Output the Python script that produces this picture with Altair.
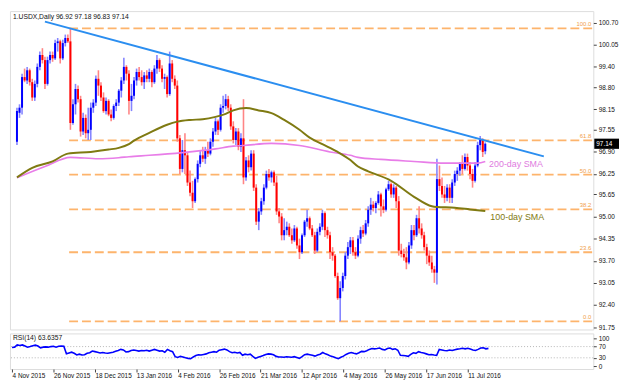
import altair as alt
import pandas as pd

TITLE = "1.USDX,Daily  96.92 97.18 96.83 97.14"
RSI_TITLE = "RSI(14) 63.6357"
LAST_LABEL = "97.14"

OPEN = [
    97.20, 98.05, 98.20, 99.10, 99.00, 99.30, 98.95, 98.50, 98.90, 99.40,
    99.75, 99.60, 98.90, 99.60, 99.75, 99.65, 100.10, 100.15, 99.65, 100.10,
    100.25, 100.15, 97.75, 98.30, 98.75, 98.45, 97.50, 97.90, 97.45, 97.55,
    98.20, 98.35, 99.05, 98.85, 98.50, 98.10, 98.40, 98.00, 97.90, 98.25,
    98.35, 98.70, 99.00, 99.40, 99.20, 98.40, 98.55, 99.00, 99.25, 99.10,
    98.95, 99.15, 99.05, 99.25, 98.95, 99.35, 99.60, 99.35, 99.05, 99.10,
    98.60, 99.50, 99.05, 98.85, 97.30, 96.40, 96.95, 96.80, 96.00, 95.70,
    95.45, 96.10, 96.55, 96.80, 96.70, 96.95, 96.85, 97.20, 97.50, 97.80,
    97.55, 98.20, 98.25, 98.45, 98.20, 97.65, 97.25, 97.50, 97.05, 97.30,
    96.15, 96.65, 96.45, 96.85, 95.85, 94.85, 95.15, 95.45, 95.85, 96.25,
    96.15, 96.30, 96.00, 95.15, 95.00, 94.45, 94.60, 94.70, 94.45, 94.30,
    94.65, 94.15, 93.95, 94.45, 94.85, 94.95, 94.65, 94.45, 94.00, 94.55,
    94.70, 95.10, 94.60, 94.45, 93.95, 93.85, 93.25, 92.60, 92.90, 93.25,
    93.85, 94.10, 94.30, 93.95, 93.85, 94.35, 94.60, 94.50, 94.80, 95.20,
    95.35, 95.25, 95.40, 95.65, 95.30, 95.20, 95.80, 95.95, 95.65, 95.85,
    95.45, 94.00, 93.90, 93.80, 93.65, 94.15, 94.60, 94.45, 94.95, 94.65,
    94.45, 94.10, 93.85, 93.65, 93.45, 93.35, 96.10, 95.90, 95.65, 95.55,
    95.85, 95.55, 96.00, 96.25, 96.35, 96.55, 96.40, 96.75, 96.50, 96.25,
    96.05, 96.50, 97.10, 97.25, 96.92,
]
HIGH = [
    98.20, 98.30, 99.20, 99.35, 99.40, 99.35, 99.05, 99.00, 99.50, 99.85,
    99.95, 99.70, 99.70, 99.85, 99.85, 100.20, 100.25, 100.20, 100.20, 100.35,
    100.35, 100.53, 98.45, 98.90, 98.85, 98.55, 98.05, 98.00, 98.20, 98.35,
    98.45, 99.15, 99.30, 98.95, 98.65, 98.50, 98.45, 98.15, 98.30, 98.45,
    98.75, 99.10, 99.67, 99.45, 99.30, 98.90, 99.10, 99.35, 99.40, 99.30,
    99.25, 99.30, 99.35, 99.30, 99.45, 99.75, 99.65, 99.45, 99.20, 99.15,
    99.85, 99.60, 99.15, 99.00, 97.40, 97.25, 97.45, 96.90, 96.35, 96.05,
    96.15, 96.65, 96.95, 97.05, 97.05, 97.20, 97.30, 97.60, 97.90, 97.85,
    98.30, 98.55, 98.60, 98.55, 98.30, 97.80, 97.60, 97.60, 97.45, 98.45,
    96.75, 96.80, 96.95, 96.95, 95.95, 95.25, 95.55, 95.95, 96.35, 96.40,
    96.35, 96.35, 96.20, 95.25, 95.10, 94.95, 94.85, 94.80, 94.65, 94.75,
    94.70, 94.35, 94.50, 94.90, 95.20, 95.00, 94.75, 94.55, 94.65, 94.80,
    95.20, 95.15, 94.70, 94.55, 94.10, 93.90, 93.35, 93.10, 93.35, 93.95,
    94.25, 94.40, 94.40, 94.10, 94.45, 94.70, 94.75, 94.90, 95.30, 95.55,
    95.45, 95.45, 95.75, 95.70, 95.50, 95.85, 96.05, 96.00, 95.95, 95.90,
    95.60, 94.20, 94.05, 94.10, 94.25, 94.75, 94.75, 95.05, 95.30, 94.80,
    94.55, 94.20, 94.00, 93.85, 93.55, 96.70, 96.50, 96.15, 95.90, 95.95,
    95.95, 96.10, 96.35, 96.45, 96.60, 96.80, 96.85, 96.85, 96.60, 96.40,
    96.60, 97.20, 97.37, 97.30, 97.18,
]
LOW = [
    97.10, 97.90, 98.00, 98.95, 98.90, 98.85, 98.40, 98.40, 98.80, 99.30,
    99.50, 98.75, 98.85, 99.50, 99.55, 99.60, 99.85, 99.50, 99.60, 100.00,
    100.10, 97.55, 97.70, 98.00, 98.35, 97.35, 97.40, 97.30, 97.25, 97.25,
    98.05, 98.25, 98.55, 98.40, 98.05, 98.00, 97.95, 97.80, 97.85, 98.10,
    98.25, 98.50, 98.90, 99.00, 98.00, 98.10, 98.45, 98.85, 99.00, 98.85,
    98.75, 98.95, 98.95, 98.80, 98.90, 99.20, 99.25, 98.95, 98.75, 98.50,
    98.55, 98.95, 98.75, 97.20, 96.25, 96.30, 96.25, 95.90, 95.60, 95.25,
    95.40, 96.00, 96.45, 96.60, 96.55, 96.75, 96.80, 97.05, 97.40, 97.40,
    97.50, 98.05, 98.15, 98.10, 97.55, 97.15, 97.10, 96.95, 96.90, 95.95,
    96.05, 96.30, 96.35, 95.75, 94.75, 94.60, 95.05, 95.35, 95.80, 96.05,
    96.00, 95.90, 95.05, 94.80, 94.30, 94.30, 94.45, 94.40, 94.20, 94.25,
    94.05, 93.75, 93.90, 94.40, 94.70, 94.60, 94.40, 93.90, 93.95, 94.45,
    94.60, 94.40, 94.35, 93.75, 93.70, 93.20, 92.55, 91.92, 92.80, 93.15,
    93.75, 93.90, 93.85, 93.75, 93.80, 94.20, 94.40, 94.45, 94.70, 95.05,
    95.15, 95.10, 95.35, 95.00, 95.10, 95.15, 95.75, 95.55, 95.55, 95.25,
    93.85, 93.80, 93.70, 93.45, 93.60, 94.05, 94.30, 94.40, 94.50, 94.35,
    94.00, 93.60, 93.55, 93.35, 93.05, 93.00, 95.75, 95.55, 95.40, 95.45,
    95.40, 95.40, 95.90, 96.05, 96.20, 96.25, 96.35, 96.35, 96.10, 95.85,
    96.00, 96.45, 96.95, 96.75, 96.83,
]
CLOSE = [
    98.10, 98.20, 99.10, 99.00, 99.30, 98.95, 98.50, 98.90, 99.40, 99.75,
    99.60, 98.90, 99.60, 99.75, 99.65, 100.10, 100.15, 99.65, 100.10, 100.25,
    100.15, 97.75, 98.30, 98.75, 98.45, 97.50, 97.90, 97.45, 97.55, 98.20,
    98.35, 99.05, 98.85, 98.50, 98.10, 98.40, 98.00, 97.90, 98.25, 98.35,
    98.70, 99.00, 99.40, 99.20, 98.40, 98.55, 99.00, 99.25, 99.10, 98.95,
    99.15, 99.05, 99.25, 98.95, 99.35, 99.60, 99.35, 99.05, 99.10, 98.60,
    99.50, 99.05, 98.85, 97.30, 96.40, 96.95, 96.80, 96.00, 95.70, 95.45,
    96.10, 96.55, 96.80, 96.70, 96.95, 96.85, 97.20, 97.50, 97.80, 97.55,
    98.20, 98.25, 98.45, 98.20, 97.65, 97.25, 97.50, 97.05, 97.30, 96.15,
    96.65, 96.45, 96.85, 95.85, 94.85, 95.15, 95.45, 95.85, 96.25, 96.15,
    96.30, 96.00, 95.15, 95.00, 94.45, 94.60, 94.70, 94.45, 94.30, 94.65,
    94.15, 93.95, 94.45, 94.85, 94.95, 94.65, 94.45, 94.00, 94.55, 94.70,
    95.10, 94.60, 94.45, 93.95, 93.85, 93.25, 92.60, 92.90, 93.25, 93.85,
    94.10, 94.30, 93.95, 93.85, 94.35, 94.60, 94.50, 94.80, 95.20, 95.35,
    95.25, 95.40, 95.65, 95.30, 95.20, 95.80, 95.95, 95.65, 95.85, 95.45,
    94.00, 93.90, 93.80, 93.65, 94.15, 94.60, 94.45, 94.95, 94.65, 94.45,
    94.10, 93.85, 93.65, 93.45, 93.35, 96.10, 95.90, 95.65, 95.55, 95.85,
    95.55, 96.00, 96.25, 96.35, 96.55, 96.40, 96.75, 96.50, 96.25, 96.05,
    96.50, 97.10, 97.25, 96.90, 97.14,
]
RSI = [
    67, 68, 76, 74, 76, 72, 68, 70, 73, 75,
    72, 65, 68, 69, 68, 70, 71, 68, 71, 72,
    71, 44, 47, 50, 46, 40, 43, 40, 41, 46,
    48, 54, 52, 50, 47, 49, 47, 46, 48, 50,
    53, 56, 60, 58, 51, 52, 56, 58, 56, 54,
    56, 55, 57, 54, 57, 60, 57, 54, 55, 50,
    60, 55, 52, 34, 31, 35, 33, 30, 28, 27,
    33, 38, 41, 40, 42, 44, 48, 50, 52, 50,
    57, 59, 61, 58, 52, 48, 50, 47, 49, 39,
    43, 41, 43, 35, 28, 32, 35, 38, 42, 44,
    43, 41, 35, 33, 33, 32, 34, 33, 32, 34,
    31, 28, 34, 41, 43, 41, 39, 36, 40, 43,
    49, 44, 41, 36, 34, 30, 27, 32, 36, 42,
    46, 49, 46, 44, 48, 53, 52, 55, 60, 63,
    62, 63, 65, 60, 58, 63, 65, 60, 62, 57,
    39, 38, 37, 35, 42, 48, 46, 52, 49, 47,
    44, 41, 42, 40, 39, 60, 58, 56, 55, 58,
    56, 59, 61, 62, 64, 62, 64, 61, 58, 56,
    60, 65, 66, 62, 63.64,
]

SMA200_BAR = [0, 11, 21, 32, 40, 44, 52, 65, 78, 85, 89, 100, 111, 123, 131, 134, 143, 156, 168, 181, 184]
SMA200_VAL = [96.14, 96.47, 96.74, 96.70, 96.73, 96.76, 96.80, 96.88, 96.99, 97.07, 97.09, 97.15,
              97.09, 96.90, 96.80, 96.74, 96.68, 96.62, 96.57, 96.57, 96.62]
SMA100_BAR = [0, 6, 14, 20, 29, 36, 40, 44, 46, 52, 59, 63, 68, 73, 78, 82, 85, 90, 95, 100,
              105, 111, 115, 120, 126, 131, 134, 138, 147, 156, 163, 165, 172, 178, 184]
SMA100_VAL = [96.15, 96.43, 96.62, 96.85, 96.90, 96.97, 97.02, 97.13, 97.23, 97.46, 97.70, 97.79,
              97.84, 97.86, 97.93, 98.02, 98.12, 98.19, 98.12, 98.04, 97.84, 97.55, 97.32, 97.13,
              96.90, 96.66, 96.47, 96.33, 96.05, 95.58, 95.30, 95.28, 95.26, 95.21, 95.16]

TREND_BAR = [11, 207]
TREND_VAL = [100.73, 96.77]

FIB_LABELS = ["100.0", "61.8", "50.0", "38.2", "23.6", "0.0"]
FIB_PRICES = [100.53, 97.24, 96.23, 95.21, 93.95, 91.92]
FIB_START_BAR = 20.5

PRICE_TICKS = [100.70, 100.05, 99.40, 98.80, 98.15, 97.55, 96.90, 96.25,
               95.65, 95.00, 94.35, 93.70, 93.05, 92.40, 91.75]
RSI_TICKS = [0, 30, 70, 100]
RSI_LEVELS = [30, 70]
DATE_LABELS = ["4 Nov 2015", "26 Nov 2015", "18 Dec 2015", "13 Jan 2016", "4 Feb 2016",
               "26 Feb 2016", "21 Mar 2016", "12 Apr 2016", "4 May 2016", "26 May 2016",
               "17 Jun 2016", "11 Jul 2016"]
DATE_STEP = 16

SMA_LABELS = ["200-day SMA", "100-day SMA"]
SMA_LABEL_BAR = [185.5, 186.0]
SMA_LABEL_VAL = [96.55, 95.00]

# ---------------------------------------------------------------
W = 590
H_MAIN = 322
H_RSI = 36
FONT = "Liberation Sans"

n = len(CLOSE)
candles = pd.DataFrame({"bar": list(range(n)), "open": OPEN, "high": HIGH,
                        "low": LOW, "close": CLOSE})

xs = alt.Scale(domain=[-0.8, 224.5], nice=False, zero=False)
ys = alt.Scale(domain=[91.68, 101.04], nice=False, zero=False)
rs = alt.Scale(domain=[-10, 117], nice=False, zero=False)

PRICE_AXIS = alt.Axis(orient="right", values=PRICE_TICKS, format=".2f", labelFontSize=6.5,
                      tickSize=3, labelPadding=2, grid=False, domain=False,
                      tickColor="#444444", labelColor="#111111", labelFont=FONT, title=None)
RSI_AXIS = alt.Axis(orient="right", values=RSI_TICKS, labelFontSize=6.5, tickSize=3,
                    labelPadding=2, grid=False, domain=False, tickColor="#444444",
                    labelColor="#111111", labelFont=FONT, title=None)


def X(field):
    return alt.X(field, type="quantitative", scale=xs, axis=None, title=None)


def Y(field):
    return alt.Y(field, type="quantitative", scale=ys, axis=PRICE_AXIS, title=None)


up = alt.datum.close >= alt.datum.open

fib = pd.DataFrame({"label": FIB_LABELS, "price": FIB_PRICES,
                    "start": [FIB_START_BAR] * len(FIB_LABELS)})
fib_rules = alt.Chart(fib).mark_rule(color="#fdb46c", strokeWidth=1.8, strokeDash=[9, 4]).encode(
    x=X("start"), x2=alt.value(W), y=Y("price"))
fib_text = alt.Chart(fib).mark_text(align="right", baseline="bottom", dy=-1, fontSize=6,
                                    color="#f0a04b", font=FONT).encode(
    x=alt.value(W - 2), y=Y("price"), text="label:N")

wicks = alt.Chart(candles).mark_rule(strokeWidth=1.6).encode(
    x=X("bar"), y=Y("low"), y2="high:Q",
    color=alt.condition(up, alt.value("#8585ff"), alt.value("#ff8585")))

bodies = alt.Chart(candles).mark_bar(size=2).encode(
    x=X("bar"), y=Y("open"), y2="close:Q",
    color=alt.condition(up, alt.value("#0000ff"), alt.value("#ff0000")))

sma200 = alt.Chart(pd.DataFrame({"bar": SMA200_BAR, "v": SMA200_VAL})).mark_line(
    color="#e87de8", strokeWidth=1.6, interpolate="monotone").encode(x=X("bar"), y=Y("v"))
sma100 = alt.Chart(pd.DataFrame({"bar": SMA100_BAR, "v": SMA100_VAL})).mark_line(
    color="#7f7a12", strokeWidth=2, interpolate="monotone").encode(x=X("bar"), y=Y("v"))

trend = alt.Chart(pd.DataFrame({"bar": TREND_BAR, "v": TREND_VAL})).mark_line(
    color="#2b8ef0", strokeWidth=2).encode(x=X("bar"), y=Y("v"))

sma_lab = pd.DataFrame({"t": SMA_LABELS, "bar": SMA_LABEL_BAR, "v": SMA_LABEL_VAL,
                        "c": ["200", "100"]})
sma_text = alt.Chart(sma_lab).mark_text(align="left", baseline="middle", fontSize=9, font=FONT).encode(
    x=X("bar"), y=Y("v"), text="t:N",
    color=alt.Color("c:N", scale=alt.Scale(domain=["200", "100"], range=["#e07be0", "#7f7a12"]),
                    legend=None))

title = alt.Chart(pd.DataFrame({"t": [TITLE]})).mark_text(
    align="left", baseline="top", fontSize=6.8, color="#111111", font=FONT).encode(
    x=alt.value(3), y=alt.value(3), text="t:N")

last = pd.DataFrame({"c": [CLOSE[-1]], "lo": [CLOSE[-1] - 0.15], "hi": [CLOSE[-1] + 0.15],
                     "t": [LAST_LABEL]})
box = alt.Chart(last).mark_rect(color="#000000").encode(
    x=alt.value(W + 1), x2=alt.value(W + 26), y=Y("lo"), y2="hi:Q")
box_text = alt.Chart(last).mark_text(align="left", baseline="middle", fontSize=6.5,
                                     color="#ffffff", font=FONT).encode(
    x=alt.value(W + 3), y=Y("c"), text="t:N")

main = alt.layer(fib_rules, fib_text, wicks, bodies, sma200, sma100, trend, sma_text,
                 title, box, box_text).properties(width=W, height=H_MAIN)

label_expr = "[" + ",".join("'%s'" % s for s in DATE_LABELS) + "][round(datum.value / %d)]" % DATE_STEP
X_AXIS = alt.Axis(values=[i * DATE_STEP for i in range(len(DATE_LABELS))],
                  labelExpr=label_expr, labelAlign="left", labelFontSize=6.5,
                  tickSize=3, labelPadding=1, domain=False, grid=False,
                  labelOverlap=False, labelFlush=False, tickColor="#444444",
                  labelColor="#111111", labelFont=FONT, title=None)

rsi_df = pd.DataFrame({"bar": list(range(n)), "rsi": RSI})
rsi_levels = alt.Chart(pd.DataFrame({"v": RSI_LEVELS})).mark_rule(
    color="#b5b5b5", strokeDash=[1, 2], strokeWidth=1).encode(
    y=alt.Y("v:Q", scale=rs, axis=RSI_AXIS, title=None))
rsi_line = alt.Chart(rsi_df).mark_line(color="#0000ff", strokeWidth=1.6).encode(
    x=alt.X("bar:Q", scale=xs, title=None, axis=X_AXIS),
    y=alt.Y("rsi:Q", scale=rs, title=None, axis=RSI_AXIS))
rsi_title = alt.Chart(pd.DataFrame({"t": [RSI_TITLE]})).mark_text(
    align="left", baseline="top", fontSize=6.8, color="#111111", font=FONT).encode(
    x=alt.value(3), y=alt.value(2), text="t:N")

rsi = alt.layer(rsi_levels, rsi_line, rsi_title).properties(width=W, height=H_RSI)

chart = alt.vconcat(main, rsi, spacing=1).properties(
    padding={"left": 0, "top": 0, "right": 0, "bottom": 0}
).configure_view(stroke="#7f7f7f", strokeWidth=1.2).configure(font=FONT, background="#ffffff")

chart.save("out.html", embed_options={"renderer": "svg", "actions": False})
